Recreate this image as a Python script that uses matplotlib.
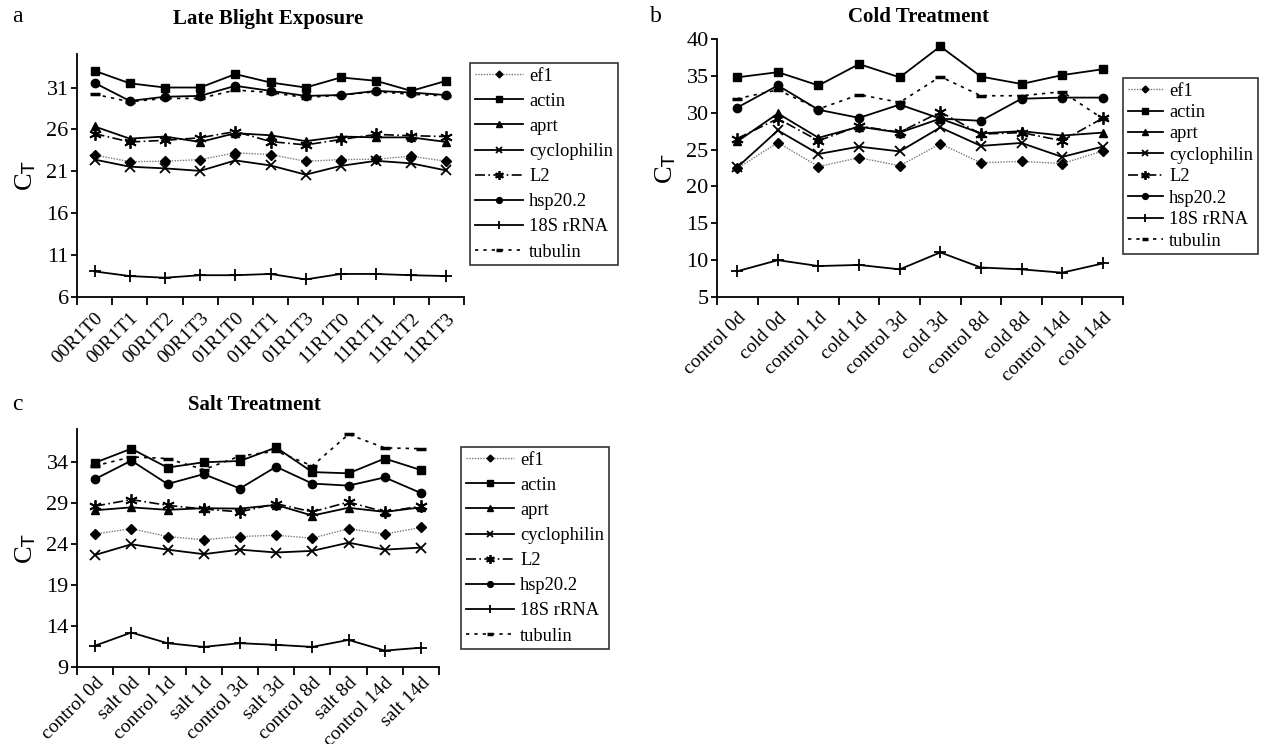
import matplotlib
matplotlib.use("Agg")
import matplotlib.pyplot as plt
import matplotlib.lines as mlines
import matplotlib.transforms as mtransforms
import numpy as np

plt.rcParams['font.family'] = ['Liberation Serif', 'DejaVu Serif']
plt.rcParams['mathtext.default'] = 'regular'

genes = ["ef1", "actin", "aprt", "cyclophilin", "L2", "hsp20.2", "18S rRNA", "tubulin"]

# Panel a: Late Blight Exposure
cats_a = ["00R1T0", "00R1T1", "00R1T2", "00R1T3", "01R1T0", "01R1T1", "01R1T3",
          "11R1T0", "11R1T1", "11R1T2", "11R1T3"]
a_ef1 = [22.95, 22.15, 22.2, 22.4, 23.2, 23.0, 22.2, 22.4, 22.45, 22.8, 22.2]
a_actin = [33.0, 31.5, 31.0, 31.0, 32.6, 31.6, 31.0, 32.2, 31.8, 30.6, 31.8]
a_aprt = [26.35, 24.9, 25.15, 24.5, 25.55, 25.3, 24.6, 25.15, 25.05, 25.05, 24.5]
a_cyclophilin = [22.4, 21.55, 21.35, 21.05, 22.3, 21.7, 20.6, 21.65, 22.25, 21.95, 21.1]
a_L2 = [25.5, 24.5, 24.7, 25.0, 25.75, 24.55, 24.15, 24.8, 25.4, 25.25, 25.15]
a_hsp = [31.55, 29.4, 29.9, 30.0, 31.2, 30.6, 30.0, 30.1, 30.6, 30.4, 30.1]
a_18s = [9.05, 8.5, 8.3, 8.6, 8.6, 8.75, 8.1, 8.75, 8.75, 8.6, 8.5]
a_tubulin = [30.2, 29.3, 29.7, 29.7, 30.7, 30.4, 29.8, 30.1, 30.5, 30.2, 30.0]

# Panel b: Cold Treatment
cats_b = ["control 0d", "cold 0d", "control 1d", "cold 1d", "control 3d", "cold 3d",
          "control 8d", "cold 8d", "control 14d", "cold 14d"]
b_ef1 = [22.45, 25.95, 22.7, 23.9, 22.8, 25.8, 23.2, 23.4, 23.1, 24.8]
b_actin = [34.8, 35.5, 33.7, 36.6, 34.8, 39.0, 34.9, 33.9, 35.1, 35.9]
b_aprt = [26.1, 29.9, 26.6, 28.1, 27.3, 29.2, 27.2, 27.5, 26.9, 27.3]
b_cyclophilin = [22.6, 27.6, 24.4, 25.4, 24.75, 28.0, 25.5, 25.9, 24.0, 25.4]
b_L2 = [26.5, 29.2, 26.2, 28.2, 27.35, 30.1, 27.1, 27.3, 26.2, 29.25]
b_hsp = [30.7, 33.7, 30.4, 29.3, 31.1, 29.2, 28.9, 31.9, 32.05, 32.05]
b_18s = [8.5, 10.0, 9.2, 9.35, 8.75, 11.05, 9.0, 8.75, 8.3, 9.55]
b_tubulin = [31.9, 33.1, 30.5, 32.45, 31.4, 34.9, 32.3, 32.3, 32.85, 29.2]

# Panel c: Salt Treatment
cats_c = ["control 0d", "salt 0d", "control 1d", "salt 1d", "control 3d", "salt 3d",
          "control 8d", "salt 8d", "control 14d", "salt 14d"]
c_ef1 = [25.2, 25.85, 24.9, 24.5, 24.9, 25.05, 24.7, 25.85, 25.2, 26.0]
c_actin = [33.9, 35.6, 33.3, 33.95, 34.1, 35.75, 32.75, 32.6, 34.4, 33.0]
c_aprt = [28.1, 28.45, 28.15, 28.35, 28.3, 28.75, 27.45, 28.4, 27.9, 28.45]
c_cyclophilin = [22.65, 23.95, 23.3, 22.75, 23.3, 22.95, 23.15, 24.15, 23.3, 23.55]
c_L2 = [28.6, 29.4, 28.7, 28.25, 27.9, 28.9, 27.9, 29.1, 27.9, 28.6]
c_hsp = [31.9, 34.15, 31.3, 32.5, 30.75, 33.4, 31.35, 31.1, 32.1, 30.2]
c_18s = [11.6, 13.2, 11.9, 11.45, 11.9, 11.7, 11.45, 12.3, 11.0, 11.35]
c_tubulin = [33.5, 34.6, 34.4, 33.05, 34.7, 35.3, 33.5, 37.35, 35.7, 35.6]

styles = {
    "ef1": dict(color="#777777", ls=(0, (1, 1)), lw=1.0, marker="D", ms=5, mfc="black", mec="black"),
    "actin": dict(color="black", ls="-", lw=1.3, marker="s", ms=6, mfc="black", mec="black"),
    "aprt": dict(color="black", ls="-", lw=1.3, marker="^", ms=6, mfc="black", mec="black"),
    "cyclophilin": dict(color="black", ls="-", lw=1.3, marker="x", ms=7, mew=1.3, mec="black"),
    "L2": dict(color="black", ls=(0, (6, 2, 1, 2)), lw=1.2, marker=(6, 2, 0), ms=9, mew=1.3, mec="black"),
    "hsp20.2": dict(color="black", ls="-", lw=1.3, marker="o", ms=6, mfc="black", mec="black"),
    "18S rRNA": dict(color="black", ls="-", lw=1.3, marker="|", ms=8, mew=1.3, mec="black"),
    "tubulin": dict(color="black", ls=(0, (2, 3)), lw=1.2, marker="_", ms=7, mew=2.5, mec="black"),
}

fig = plt.figure(figsize=(12.65, 7.44), dpi=100)
W, H = 1265, 744


def add_ax(x0, y0, x1, y1):
    return fig.add_axes([x0 / W, 1 - y1 / H, (x1 - x0) / W, (y1 - y0) / H])


def panel(ax, cats, series, ylim, yticks, leg_pos, handlelen, labelsp, xpad=9):
    x = np.arange(len(cats))
    for g, vals in zip(genes, series):
        st = dict(styles[g])
        if g == "18S rRNA":
            st["marker"] = "+"
            st["ms"] = 9
        ax.plot(x, vals, label=g, clip_on=False, **st)
    ax.set_xlim(-0.5, len(cats) - 0.5)
    ax.set_ylim(*ylim)
    ax.set_yticks(yticks)
    ax.set_xticks(x)
    ax.set_xticklabels(cats, rotation=45, ha="right", rotation_mode="anchor", fontsize=14)
    offset = mtransforms.ScaledTranslation(8 / 100, 0, fig.dpi_scale_trans)
    for lab in ax.get_xticklabels():
        lab.set_transform(lab.get_transform() + offset)
    ax.set_xticks(np.arange(-0.5, len(cats)), minor=True)
    ax.tick_params(axis="x", which="major", length=0, pad=xpad)
    ax.tick_params(axis="x", which="minor", length=6, width=1.3, direction="out")
    ax.tick_params(axis="y", length=4, width=1.3, direction="out", labelsize=16, pad=2)
    for s in ["top", "right"]:
        ax.spines[s].set_visible(False)
    for s in ["left", "bottom"]:
        ax.spines[s].set_linewidth(1.3)
    ax.set_ylabel(r"C$_\mathrm{T}$", fontsize=19, labelpad=6)
    proxies = []
    for g in genes:
        st = dict(styles[g])
        st["ms"] = st["ms"] * 0.7
        proxies.append(mlines.Line2D([], [], **st))
    lx0, ly0 = leg_pos
    leg = fig.legend(proxies, genes, loc="upper left",
                     bbox_to_anchor=(lx0 / W, 1 - ly0 / H), fontsize=13.3,
                     frameon=True, fancybox=False, edgecolor="black",
                     handlelength=handlelen, handletextpad=0.35, labelspacing=labelsp,
                     borderpad=0.25, borderaxespad=0)
    leg.get_frame().set_linewidth(1.2)
    return ax


ax_a = add_ax(77, 54, 464, 297)
panel(ax_a, cats_a, [a_ef1, a_actin, a_aprt, a_cyclophilin, a_L2, a_hsp, a_18s, a_tubulin],
      (6, 35), [6, 11, 16, 21, 26, 31], (470, 63), 2.6, 0.44)

ax_b = add_ax(717, 39, 1123, 297)
panel(ax_b, cats_b, [b_ef1, b_actin, b_aprt, b_cyclophilin, b_L2, b_hsp, b_18s, b_tubulin],
      (5, 40), [5, 10, 15, 20, 25, 30, 35, 40], (1123, 78), 1.9, 0.24)

ax_c = add_ax(77, 429, 439, 667)
panel(ax_c, cats_c, [c_ef1, c_actin, c_aprt, c_cyclophilin, c_L2, c_hsp, c_18s, c_tubulin],
      (9, 38), [9, 14, 19, 24, 29, 34], (461, 447), 2.6, 0.44, xpad=5)

fig.text(268 / W, 1 - 19 / H, "Late Blight Exposure", fontsize=15, fontweight="bold",
         ha="center", va="center")
fig.text(918 / W, 1 - 17 / H, "Cold Treatment", fontsize=15, fontweight="bold",
         ha="center", va="center")
fig.text(254 / W, 1 - 405 / H, "Salt Treatment", fontsize=15, fontweight="bold",
         ha="center", va="center")

fig.text(12 / W, 1 - 16 / H, "a", fontsize=17, va="center", ha="left")
fig.text(650 / W, 1 - 16 / H, "b", fontsize=17, va="center", ha="left")
fig.text(12 / W, 1 - 404 / H, "c", fontsize=17, va="center", ha="left")

fig.savefig("out.png", dpi=100)
